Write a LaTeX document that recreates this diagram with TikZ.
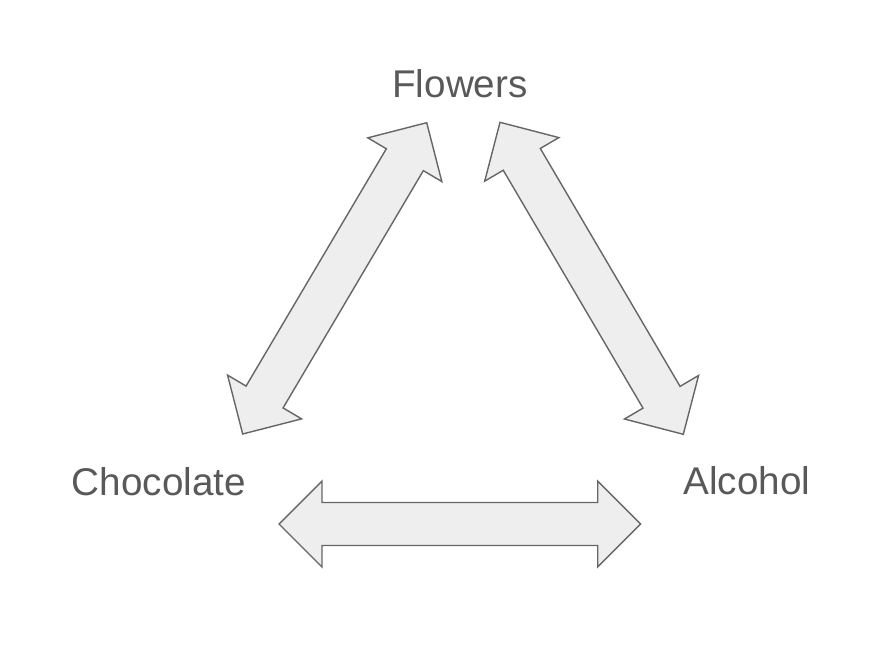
\documentclass[tikz,border=0pt]{standalone}
\usepackage{fontspec}
\setmainfont{Liberation Sans}
\usetikzlibrary{calc}
\definecolor{wordgray}{RGB}{89,89,89}
\definecolor{arrowfill}{RGB}{238,238,238}
\definecolor{arrowline}{RGB}{102,102,102}
\begin{document}
\begin{tikzpicture}[
      x=0.02cm, y=-0.02cm,
      word/.style={
          text=wordgray, anchor=base,
          font=\fontsize{22}{26}\selectfont
      },
      blockarrow/.style={
          draw=arrowline, fill=arrowfill,
          line width=0.8pt, line join=miter
      }
  ]
    \useasboundingbox (0,0) rectangle (896,652);

    % The three words
    \node[word] (flowers) at (460,98) {Flowers};
    \node[word] (chocolate) at (159,495) {Chocolate};
    \node[word] (alcohol) at (747,494) {Alcohol};

    % Tips of the block arrows
    \coordinate (cf) at (242.7,434);
    \coordinate (fc) at (426.7,122.7);
    \coordinate (fa) at (500,122.3);
    \coordinate (af) at (683.3,434.3);
    \coordinate (ca) at (279,524);
    \coordinate (ac) at (640.7,524);

    % Double block arrows
    \foreach \a/\b in {cf/fc, fa/af, ca/ac} {
        \coordinate (\a h) at ($(\a)!0.86cm!(\b)$);
        \coordinate (\b h) at ($(\b)!0.86cm!(\a)$);
        \draw[blockarrow] (\a)
            -- ($(\a h)!0.86cm!90:(\b)$) -- ($(\a h)!0.43cm!90:(\b)$)
            -- ($(\b h)!0.43cm!-90:(\a)$) -- ($(\b h)!0.86cm!-90:(\a)$)
            -- (\b)
            -- ($(\b h)!0.86cm!90:(\a)$) -- ($(\b h)!0.43cm!90:(\a)$)
            -- ($(\a h)!0.43cm!-90:(\b)$) -- ($(\a h)!0.86cm!-90:(\b)$)
            -- cycle;
    }
  \end{tikzpicture}
\end{document}
